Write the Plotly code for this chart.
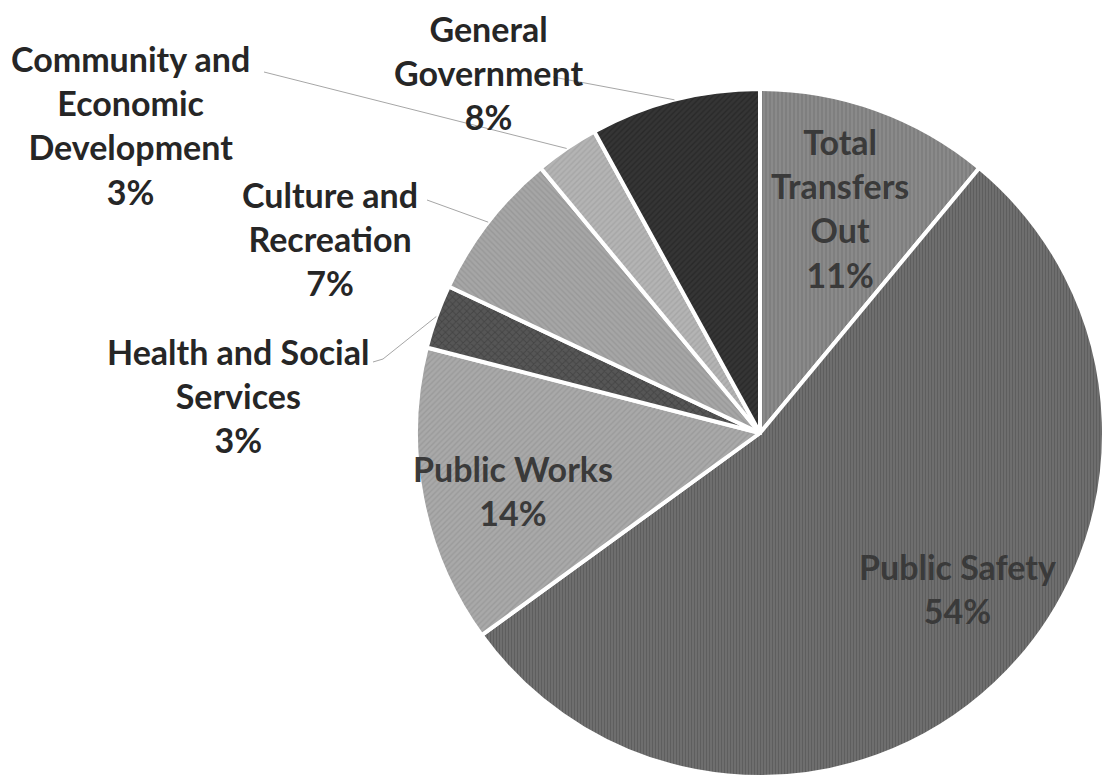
import math
import plotly.graph_objects as go

# Expenditure shares by function (percent of total), clockwise from 12 o'clock
categories = [
    "Total Transfers Out",
    "Public Safety",
    "Public Works",
    "Health and Social Services",
    "Culture and Recreation",
    "Community and Economic Development",
    "General Government",
]
shares = [11, 54, 14, 3, 7, 3, 8]
label_lines = [
    ["Total", "Transfers", "Out"],
    ["Public Safety"],
    ["Public Works"],
    ["Health and Social", "Services"],
    ["Culture and", "Recreation"],
    ["Community and", "Economic", "Development"],
    ["General", "Government"],
]

# Slice styling: base gray plus a fine hatch texture
fill_colors = ["#8a8a8a", "#6e6e6e", "#a9a9a9", "#565656", "#a6a6a6", "#b4b4b4", "#353535"]
hatch_colors = ["#6a6a6a", "#4e4e4e", "#8c8c8c", "#333333", "#8a8a8a", "#979797", "#1e1e1e"]
hatch_shapes = ["|", "|", "/", "x", "\\", "/", "/"]
hatch_sizes = [4, 3, 4, 5, 4, 4, 4]

W, H = 1104, 784
CX, CY, R = 760, 433, 344          # pie centre and radius in pixels

# Label block centres (px) and leader-line start points for outside labels
label_pos = [(840, 208), (957, 588), (513, 490), (238, 395), (330, 238), (130, 125), (488, 72)]
leader_start = {3: [(373, 362), (383, 359)], 4: [(427, 200)], 5: [(264, 72)], 6: [(553, 77)]}
inside = {0, 1, 2}

INSIDE_TEXT = "#3a3a3a"
OUTSIDE_TEXT = "#262626"
FONT = "Lato"
FS = 34


def px(x, y):
    return x / W, 1 - y / H


fig = go.Figure(
    go.Pie(
        labels=categories,
        values=shares,
        sort=False,
        direction="clockwise",
        rotation=0,
        textinfo="none",
        hoverinfo="label+percent",
        showlegend=False,
        marker=dict(
            colors=fill_colors,
            line=dict(color="white", width=4),
            pattern=dict(
                shape=hatch_shapes,
                fgcolor=hatch_colors,
                size=hatch_sizes,
                solidity=0.35,
                fillmode="overlay",
            ),
        ),
        domain=dict(
            x=[(CX - R) / W, min(1, (CX + R) / W)],
            y=[max(0, 1 - (CY + R) / H), 1 - (CY - R) / H],
        ),
    )
)

annotations = []
shapes = []
total = sum(shares)
cum = 0
for i, (name, v) in enumerate(zip(categories, shares)):
    mid = (cum + v / 2) / total * 2 * math.pi
    cum += v
    text = "<br>".join(label_lines[i] + [f"{v}%"])
    lx, ly = px(*label_pos[i])
    annotations.append(
        dict(
            x=lx, y=ly, xref="paper", yref="paper", text=text, showarrow=False,
            xanchor="center", yanchor="middle", align="center",
            font=dict(family=FONT, size=FS, weight="bold",
                      color=INSIDE_TEXT if i in inside else OUTSIDE_TEXT),
        )
    )
    if i in leader_start:
        ex = CX + R * math.sin(mid)
        ey = CY - R * math.cos(mid)
        pts = leader_start[i] + [(ex, ey)]
        for (x0, y0), (x1, y1) in zip(pts[:-1], pts[1:]):
            a0 = px(x0, y0)
            a1 = px(x1, y1)
            shapes.append(
                dict(type="line", xref="paper", yref="paper",
                     x0=a0[0], y0=a0[1], x1=a1[0], y1=a1[1],
                     line=dict(color="#a6a6a6", width=1))
            )

fig.update_layout(
    width=W, height=H,
    margin=dict(l=0, r=0, t=0, b=0),
    paper_bgcolor="white",
    plot_bgcolor="white",
    annotations=annotations,
    shapes=shapes,
)

fig.write_html("out.html")
